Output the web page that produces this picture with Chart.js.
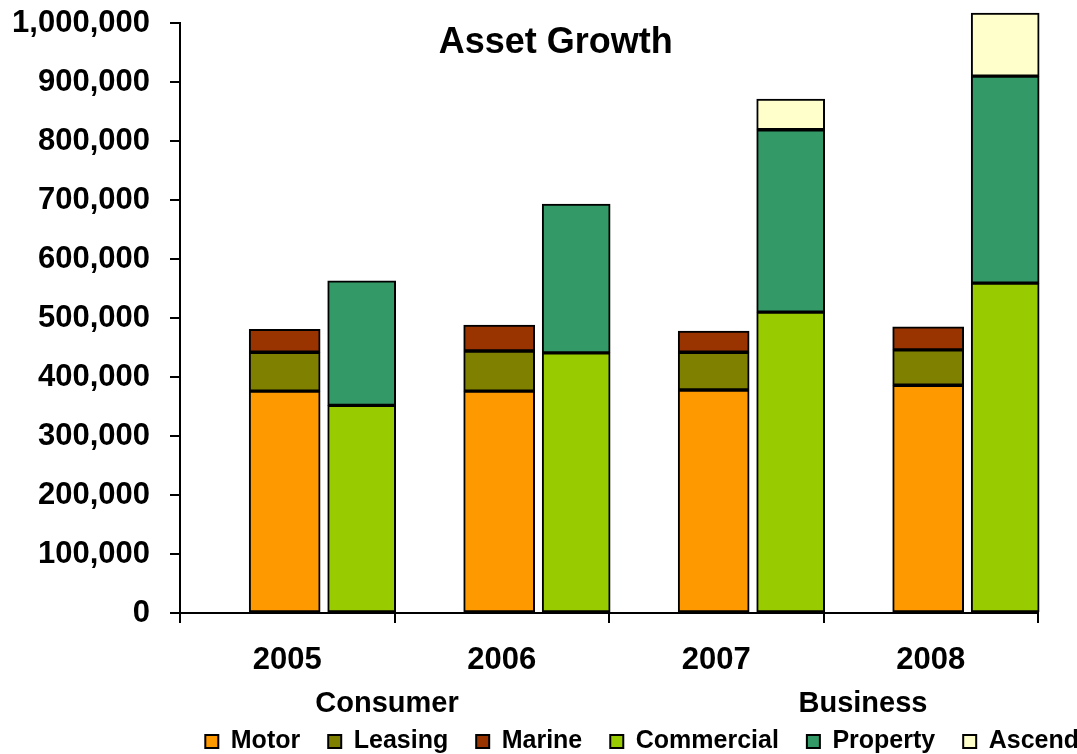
<!DOCTYPE html>
<html>
<head>
<meta charset="utf-8">
<script src="https://cdn.jsdelivr.net/npm/chart.js@4/dist/chart.umd.min.js"></script>
<style>
  html, body { margin: 0; padding: 0; background: #fff; }
  #wrap { width: 1077px; height: 754px; position: relative; }
</style>
</head>
<body>
<div id="wrap"><canvas id="c"></canvas></div>
<script>
// ---- data (values in currency units) ----
const years = ['2005', '2006', '2007', '2008'];
const motor      = [376000, 376000, 378000, 386000];
const leasing    = [66000, 68000, 64000, 60000];
const marine     = [39000, 44000, 36000, 39000];
const commercial = [352000, 441000, 510000, 559000];
const property   = [211000, 252000, 309000, 351000];
const ascend     = [0, 0, 52000, 107000];
const yTicksMax  = 1000000;
const yTickStep  = 100000;
const chartTitle = 'Asset Growth';
const groupLabels = ['Consumer', 'Business'];

// layout constants (position of each bar group inside its year slot, in slot units)
const CONSUMER_SHIFT = -0.012;
const BUSINESS_SHIFT = 0.347;

const FONT = '"Liberation Sans", Arial, Helvetica, sans-serif';
Chart.defaults.color = '#000';
Chart.defaults.font.family = FONT;

const at = (arr, shift) => arr.map((v, i) => ({ x: i + shift, y: v }));

const common = { xAxisID: 'xb', grouped: false, borderColor: '#000', borderWidth: 2, borderSkipped: false, clip: false };
const consumerStyle = Object.assign({ stack: 'consumer', barThickness: 71 }, common);
const businessStyle = Object.assign({ stack: 'business', barThickness: 68 }, common);

const textPlugin = {
  id: 'texts',
  afterDraw(chart) {
    const ctx = chart.ctx;
    const ca = chart.chartArea;
    const xs = chart.scales.xb;
    ctx.save();
    ctx.fillStyle = '#000';
    ctx.textAlign = 'center';
    ctx.textBaseline = 'alphabetic';
    ctx.font = 'bold 36px ' + FONT;
    ctx.fillText(chartTitle, ca.left + (ca.right - ca.left) * 0.438, ca.top + 30);
    ctx.font = 'bold 29px ' + FONT;
    ctx.fillText(groupLabels[0], xs.getPixelForValue(0.465), ca.bottom + 99);
    ctx.fillText(groupLabels[1], xs.getPixelForValue(2.684), ca.bottom + 99);
    ctx.restore();
  }
};

new Chart(document.getElementById('c'), {
  type: 'bar',
  data: {
    labels: years,
    datasets: [
      Object.assign({ label: 'Motor', data: at(motor, CONSUMER_SHIFT), backgroundColor: '#FF9900' }, consumerStyle),
      Object.assign({ label: 'Leasing', data: at(leasing, CONSUMER_SHIFT), backgroundColor: '#808000' }, consumerStyle),
      Object.assign({ label: 'Marine', data: at(marine, CONSUMER_SHIFT), backgroundColor: '#993300' }, consumerStyle),
      Object.assign({ label: 'Commercial', data: at(commercial, BUSINESS_SHIFT), backgroundColor: '#99CC00' }, businessStyle),
      Object.assign({ label: 'Property', data: at(property, BUSINESS_SHIFT), backgroundColor: '#339966' }, businessStyle),
      Object.assign({ label: 'Ascend', data: at(ascend, BUSINESS_SHIFT), backgroundColor: '#FFFFCC' }, businessStyle)
    ]
  },
  options: {
    responsive: true,
    maintainAspectRatio: false,
    animation: false,
    layout: { padding: { left: 0, right: -30, top: 23, bottom: -10 } },
    plugins: {
      title: { display: false },
      tooltip: { enabled: false },
      legend: {
        position: 'bottom',
        align: 'end',
        labels: {
          boxWidth: 13,
          boxHeight: 13,
          padding: 28,
          color: '#000',
          font: { size: 25, weight: 'bold', family: FONT }
        }
      }
    },
    scales: {
      x: {
        type: 'category',
        offset: true,
        grid: { offset: true, drawOnChartArea: false, drawTicks: true, tickLength: 10, color: '#000', lineWidth: 2 },
        border: { display: true, color: '#000', width: 2 },
        ticks: { padding: 19, font: { size: 31, weight: 'bold', family: FONT }, color: '#000', maxRotation: 0 },
        afterFit: (s) => { s.height = 88; }
      },
      xb: {
        type: 'linear',
        position: 'bottom',
        display: false,
        offset: false,
        min: -0.5,
        max: 3.5
      },
      y: {
        type: 'linear',
        stacked: true,
        min: 0,
        max: yTicksMax,
        grid: { drawOnChartArea: false, drawTicks: true, tickLength: 10, color: '#000', lineWidth: 2 },
        border: { display: true, color: '#000', width: 2 },
        ticks: {
          stepSize: yTickStep,
          padding: 20,
          color: '#000',
          font: { size: 31, weight: 'bold', family: FONT },
          callback: (v) => Number(v).toLocaleString('en-US')
        },
        afterFit: (s) => { s.width = 180; s.paddingTop = 18; s.paddingBottom = 18; }
      },
      yr: {
        type: 'linear',
        position: 'right',
        display: true,
        grid: { display: false, drawTicks: false },
        border: { display: false },
        ticks: { display: false },
        afterFit: (s) => { s.width = 69; s.paddingTop = 0; s.paddingBottom = 0; }
      }
    }
  },
  plugins: [textPlugin]
});
</script>
</body>
</html>
